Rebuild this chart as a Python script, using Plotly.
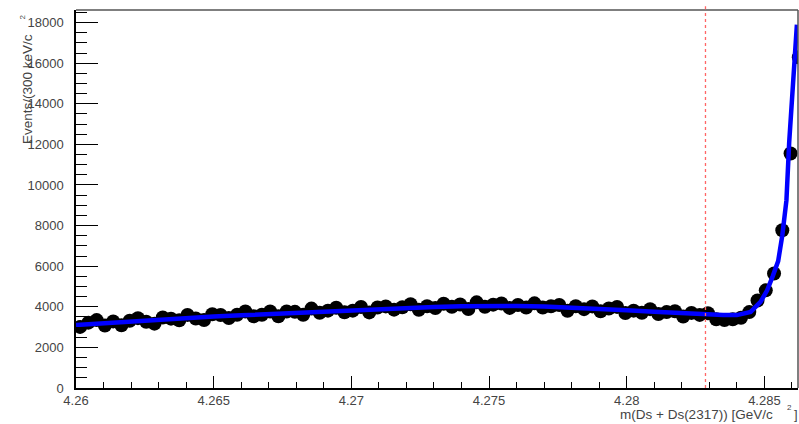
import plotly.graph_objects as go

# ---- data ----
bin_width = 0.0003
first_center = 4.26015
data_y = [3010, 3220, 3345, 3075, 3280, 3090, 3315, 3440, 3265, 3170,
          3470, 3415, 3335, 3600, 3425, 3350, 3635, 3595, 3450, 3610,
          3770, 3530, 3610, 3770, 3530, 3770, 3750, 3610, 3910, 3710,
          3810, 3950, 3730, 3810, 3990, 3725, 3965, 4020, 3860, 3975,
          4125, 3855, 4030, 3940, 4150, 4000, 4110, 3895, 4220, 4005,
          4105, 4165, 3945, 4085, 3960, 4170, 3960, 4025, 4085, 3805,
          4025, 3885, 4020, 3775, 3915, 3995, 3695, 3810, 3710, 3885,
          3640, 3740, 3780, 3520, 3700, 3600, 3680, 3390, 3345, 3385,
          3460, 3740, 4310, 4810, 5640, 7770, 11550, 16290]
data_x = [round(first_center + bin_width * i, 5) for i in range(len(data_y))]

fit_x = [4.2600, 4.2610, 4.2620, 4.2630, 4.2640, 4.2650, 4.2660, 4.2670,
         4.2680, 4.2690, 4.2700, 4.2710, 4.2720, 4.2730, 4.2740, 4.2750,
         4.2760, 4.2770, 4.2780, 4.2790, 4.2800, 4.2810, 4.2820, 4.2830,
         4.2835, 4.2840, 4.2843, 4.2845, 4.28486, 4.2851, 4.2853, 4.2855,
         4.28565, 4.2858, 4.2859, 4.2860, 4.28608, 4.28618]
fit_y = [3100, 3190, 3280, 3360, 3440, 3520, 3580, 3640,
         3710, 3780, 3850, 3910, 3960, 3995, 4030, 4045,
         4045, 4020, 3970, 3900, 3830, 3755, 3680, 3610,
         3590, 3590, 3660, 3750, 4240, 4810, 5500, 6250,
         7520, 9240, 12100, 14400, 15650, 17900]

threshold_x = 4.28286
threshold_y = [0, 18620]

x_tickvals = [4.26, 4.265, 4.27, 4.275, 4.28, 4.285]
x_ticktext = ["4.26", "4.265", "4.27", "4.275", "4.28", "4.285"]
y_tickvals = [0, 2000, 4000, 6000, 8000, 10000, 12000, 14000, 16000, 18000]
y_ticktext = ["0", "2000", "4000", "6000", "8000", "10000", "12000", "14000", "16000", "18000"]

x_title = "m(Ds + Ds(2317)) [GeV/c"
y_title = "Events/(300 keV/c"

FONT = "Liberation Sans, Arial, sans-serif"
TXT = "#444444"

fig = go.Figure()
fig.add_trace(go.Scatter(
    x=data_x, y=data_y, mode="markers",
    marker=dict(symbol="circle", size=14, color="black", line=dict(width=0)),
    showlegend=False, hoverinfo="skip"))
fig.add_trace(go.Scatter(
    x=fit_x, y=fit_y, mode="lines",
    line=dict(color="#0000ff", width=4.5),
    showlegend=False, hoverinfo="skip"))
fig.add_trace(go.Scatter(
    x=[threshold_x, threshold_x], y=threshold_y, mode="lines",
    line=dict(color="#ff6666", width=1.3, dash="3px,3px"),
    showlegend=False, hoverinfo="skip"))

# frame top / right
fig.add_shape(type="line", xref="paper", yref="paper", x0=0, x1=1, y0=1, y1=1,
              line=dict(color="#555555", width=1.5), layer="above")
fig.add_shape(type="line", xref="paper", yref="paper", x0=1, x1=1, y0=0, y1=1,
              line=dict(color="#555555", width=1.5), layer="above")
# small overshoot of the threshold line above the frame
fig.add_shape(type="line", xref="x", yref="paper", x0=threshold_x, x1=threshold_x,
              y0=1.002, y1=1.018, layer="above",
              line=dict(color="#ff6666", width=1.3, dash="3px,3px"))

fig.update_layout(
    width=799, height=424,
    margin=dict(l=76, r=1, t=10, b=36),
    paper_bgcolor="white", plot_bgcolor="white",
    font=dict(family=FONT, size=13, color=TXT),
    xaxis=dict(range=[4.26, 4.28622], showgrid=False, zeroline=False,
               showline=True, linecolor="black", linewidth=1.5,
               ticks="inside", ticklen=12, tickwidth=1.2, tickcolor="black",
               tickvals=x_tickvals, ticktext=x_ticktext,
               minor=dict(ticks="inside", ticklen=6, tickwidth=1.2, tickcolor="black",
                          tick0=4.26, dtick=0.001, showgrid=False),
               tickfont=dict(family=FONT, size=13, color=TXT), ticklabelstandoff=0),
    yaxis=dict(range=[0, 18620], showgrid=False, zeroline=False,
               showline=True, linecolor="black", linewidth=1.5,
               ticks="inside", ticklen=22, tickwidth=1.2, tickcolor="black",
               tickvals=y_tickvals, ticktext=y_ticktext,
               minor=dict(ticks="inside", ticklen=11, tickwidth=1.2, tickcolor="black",
                          tick0=0, dtick=500, showgrid=False),
               tickfont=dict(family=FONT, size=13, color=TXT), ticklabelstandoff=8),
)

annotations = [
    dict(text=y_title, textangle=-90, xref="paper", yref="paper",
         x=(27 - 76) / 722, y=(388 - 32) / 378, xanchor="center", yanchor="top",
         showarrow=False, font=dict(family=FONT, size=13.5, color=TXT)),
    dict(text="2", textangle=-90, xref="paper", yref="paper",
         x=(22.7 - 76) / 722, y=(388 - 16.7) / 378, xanchor="center", yanchor="middle",
         showarrow=False, font=dict(family=FONT, size=8, color=TXT)),
    dict(text=x_title, xref="paper", yref="paper",
         x=(775 - 76) / 722, y=(388 - 414) / 378, xanchor="right", yanchor="middle",
         showarrow=False, font=dict(family=FONT, size=13.5, color=TXT)),
    dict(text="2", xref="paper", yref="paper",
         x=(789.5 - 76) / 722, y=(388 - 407) / 378, xanchor="center", yanchor="middle",
         showarrow=False, font=dict(family=FONT, size=8, color=TXT)),
    dict(text="]", xref="paper", yref="paper", borderpad=0,
         x=(793 - 76) / 722, y=(388 - 414) / 378, xanchor="left", yanchor="middle",
         showarrow=False, font=dict(family=FONT, size=13, color=TXT)),
]
fig.update_layout(annotations=annotations)

fig.write_html("out.html")
